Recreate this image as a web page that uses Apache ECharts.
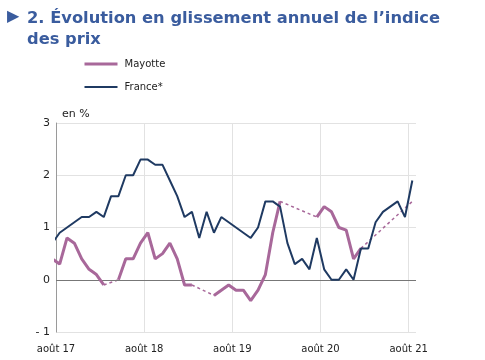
<!DOCTYPE html>
<html><head><meta charset="utf-8">
<script src="https://cdn.jsdelivr.net/npm/echarts@6/dist/echarts.min.js"></script>
<style>html,body{margin:0;padding:0;background:#fff}#c{width:485px;height:360px}</style>
</head><body><div id="c"></div>
<script>
// Monthly observations from juillet 2017 (just outside the frame) to août 2021
const firstMonthOffset = -1; // juillet 2017 = one month before août 17
const mayotte = [0.4, 0.3, 0.8, 0.7, 0.4, 0.2, 0.1, -0.1, null, 0.0,
  0.4, 0.4, 0.7, 0.9, 0.4, 0.5, 0.7, 0.4, -0.1, -0.1,
  null, null, -0.3, -0.2, -0.1, -0.2, -0.2, -0.4, -0.2, 0.1,
  0.9, 1.5, null, null, null, null, 1.2, 1.4, 1.3, 1.0,
  0.95, 0.4, 0.6, null, null, null, null, null, null, 1.5];
const france = [0.7, 0.9, 1.0, 1.1, 1.2, 1.2, 1.3, 1.2, 1.6, 1.6,
  2.0, 2.0, 2.3, 2.3, 2.2, 2.2, 1.9, 1.6, 1.2, 1.3,
  0.8, 1.3, 0.9, 1.2, 1.1, 1.0, 0.9, 0.8, 1.0, 1.5,
  1.5, 1.4, 0.7, 0.3, 0.4, 0.2, 0.8, 0.2, 0.0, 0.0,
  0.2, 0.0, 0.6, 0.6, 1.1, 1.3, 1.4, 1.5, 1.2, 1.9];
const xTickLabels = ['août 17', 'août 18', 'août 19', 'août 20', 'août 21'];
const yTicks = [-1, 0, 1, 2, 3];
const seriesNames = ['Mayotte', 'France*'];
const titleText = '2. Évolution en glissement annuel de l’indice\ndes prix';
const unitText = 'en %';

const colMay = '#a8689a', colFr = '#1f3a62', titleColor = '#3a5c9e';
const FONT = 'DejaVu Sans';

// x position: month index centred in its month band
const pos = i => i + firstMonthOffset + 0.5;
const toPts = arr => arr.map((v, i) => [pos(i), v == null ? '-' : v]);

// dashed connectors over missing months
function gapSeries(arr, color) {
  const out = [];
  let last = null;
  for (let i = 0; i < arr.length; i++) {
    if (arr[i] == null) continue;
    if (last !== null && i - last > 1) {
      out.push({
        type: 'line', silent: true, symbol: 'none', z: 1,
        lineStyle: { color: color, width: 1.5, type: [3, 3] },
        data: [[pos(last), arr[last]], [pos(i), arr[i]]]
      });
    }
    last = i;
  }
  return out;
}

const chart = echarts.init(document.getElementById('c'), null, { renderer: 'canvas' });
chart.setOption({
  animation: false,
  textStyle: { fontFamily: FONT },
  grid: { left: 56, right: 69, top: 123, bottom: 28, containLabel: false },
  legend: {
    orient: 'vertical', left: 78, top: 54, itemWidth: 33, itemHeight: 10, itemGap: 13,
    data: [
      { name: seriesNames[0], lineStyle: { width: 3 } },
      { name: seriesNames[1], lineStyle: { width: 2 } }
    ],
    itemStyle: { opacity: 0, borderWidth: 0 },
    textStyle: { fontFamily: FONT, fontSize: 10, color: '#222', padding: [0, 0, 0, 2] }
  },
  graphic: [
    { type: 'text', left: 7, top: 9, style: { text: '▶', font: '16px ' + FONT, fill: titleColor } },
    { type: 'text', left: 27, top: 8, style: { text: titleText, font: 'bold 16.3px ' + FONT, lineHeight: 21, fill: titleColor } },
    { type: 'text', left: 62, top: 109, style: { text: unitText, font: '11px ' + FONT, fill: '#222' } }
  ],
  xAxis: {
    type: 'value', min: 0, max: 49, interval: 12,
    axisLine: { show: false, onZero: false },
    axisTick: { show: false },
    splitLine: { show: true, showMaxLine: false, lineStyle: { color: '#e2e2e2', width: 1 } },
    axisLabel: {
      margin: 12, fontSize: 10, color: '#222', fontFamily: FONT, showMaxLabel: false,
      formatter: v => (v % 12 === 0 && xTickLabels[v / 12]) ? xTickLabels[v / 12] : ''
    }
  },
  yAxis: {
    type: 'value', min: yTicks[0], max: yTicks[yTicks.length - 1], interval: 1,
    axisLine: { show: true, lineStyle: { color: '#9a9a9a', width: 1 } },
    axisTick: { show: false },
    splitLine: { show: true, lineStyle: { color: '#e2e2e2', width: 1 } },
    axisLabel: {
      margin: 6, fontSize: 11, color: '#222', fontFamily: FONT,
      formatter: v => v < 0 ? '- ' + Math.abs(v) : String(v)
    }
  },
  series: [
    {
      name: seriesNames[0], type: 'line', symbol: 'none', z: 3, connectNulls: false,
      lineStyle: { color: colMay, width: 3 }, itemStyle: { color: colMay },
      data: toPts(mayotte),
      markLine: {
        silent: true, symbol: 'none', label: { show: false },
        lineStyle: { color: '#777', type: 'solid', width: 1 },
        data: [{ yAxis: 0 }], z: 2
      }
    },
    {
      name: seriesNames[1], type: 'line', symbol: 'none', z: 4,
      lineStyle: { color: colFr, width: 2 }, itemStyle: { color: colFr },
      data: toPts(france)
    },
    ...gapSeries(mayotte, colMay)
  ]
});
</script>
</body></html>
